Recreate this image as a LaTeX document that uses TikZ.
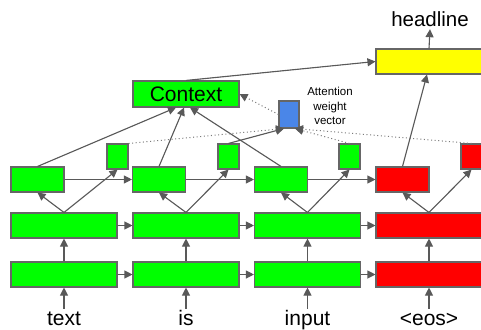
\documentclass[tikz,border=0pt]{standalone}
\usepackage{fontspec}
\setmainfont{Liberation Sans}
\usetikzlibrary{arrows.meta,calc}
\definecolor{lin}{HTML}{595959}
\definecolor{dotc}{HTML}{7A7A7A}
\definecolor{bord}{HTML}{666666}
\definecolor{gr}{HTML}{00FF00}
\definecolor{rd}{HTML}{FF0000}
\definecolor{yl}{HTML}{FFFF00}
\definecolor{bl}{HTML}{4A86E8}
\begin{document}
\begin{tikzpicture}[x=1pt,y=-1pt,
  box/.style={draw=bord,line width=1.1pt,inner sep=0pt,anchor=center},
  wide/.style={box,minimum width=106pt,minimum height=25pt},
  half/.style={box,minimum width=53pt,minimum height=25pt},
  sq/.style={box,minimum width=21pt,minimum height=25pt},
  lbl/.style={font=\fontsize{21}{24}\selectfont,anchor=base,inner sep=1pt,text height=15pt,text depth=4pt},
  arr/.style={draw=lin,line width=1.1pt,-{Triangle[length=8pt,width=8pt]},fill=lin},
  dots/.style={draw=dotc,line width=1pt,dash pattern=on 1pt off 2.6pt,-{Triangle[length=8pt,width=8pt,fill=lin,color=lin]}}
]
\useasboundingbox (0,0) rectangle (481,329);
\clip (0,0) rectangle (481,329);
\fill[white] (0,0) rectangle (481,329);

% bottom row
\node[wide,fill=gr] (b1) at (64,274.5) {};
\node[wide,fill=gr] (b2) at (186,274.5) {};
\node[wide,fill=gr] (b3) at (307.5,274.5) {};
\node[wide,fill=rd] (b4) at (429,274.5) {};
% middle row
\node[wide,fill=gr] (m1) at (64,225.5) {};
\node[wide,fill=gr] (m2) at (186,225.5) {};
\node[wide,fill=gr] (m3) at (307.5,225.5) {};
\node[wide,fill=rd] (m4) at (429,225.5) {};
% upper row
\node[half,fill=gr] (u1) at (37.5,179.5) {};
\node[half,fill=gr] (u2) at (159,179.5) {};
\node[half,fill=gr] (u3) at (281,179.5) {};
\node[half,fill=rd] (u4) at (402.5,179.5) {};
% small squares
\node[sq,fill=gr] (s1) at (117.5,156.5) {};
\node[sq,fill=gr] (s2) at (228.5,156.5) {};
\node[sq,fill=gr] (s3) at (349.5,156.5) {};
\node[sq,fill=rd] (s4) at (471.5,156.5) {};
% top
\node[box,fill=gr,minimum width=106pt,minimum height=26pt,font=\fontsize{21}{24}\selectfont] (ctx) at (186,94) {Context};
\node[wide,fill=yl] (yel) at (429,61.5) {};
\node[box,fill=bl,minimum width=20pt,minimum height=27pt] (blue) at (289,114.5) {};
\node[align=center,font=\fontsize{11.5}{14.6}\selectfont,inner sep=0pt] (att) at (330,106) {Attention\\weight\\vector};

% labels
\node[lbl] (t1) at (64,325) {text};
\node[lbl] (t2) at (186,325) {is};
\node[lbl] (t3) at (307.5,325) {input};
\node[lbl] (t4) at (429,325) {<eos>};
\node[lbl,font=\fontsize{20.5}{24}\selectfont,text depth=1pt] (head) at (430,27) {headline};

% inputs
\foreach \i in {1,2,3,4} {
  \draw[arr] (t\i.north) -- (b\i.south);
  \draw[arr] (b\i.north) -- (m\i.south);
  \draw[arr] (m\i.north) -- (u\i.south);
  \draw[arr] (m\i.north) -- (s\i.south);
}
\foreach \i/\j in {1/2,2/3,3/4} {
  \draw[arr] (b\i.east) -- (b\j.west);
  \draw[arr] (m\i.east) -- (m\j.west);
  \draw[arr] (u\i.east) -- (u\j.west);
}
% to context
\draw[arr] (u1.north) -- ($(ctx.south)+(-10,0)$);
\draw[arr] (u2.north) -- ($(ctx.south)+(-2,0)$);
\draw[arr] (u3.north) -- ($(ctx.south)+(4,0)$);
% attention
\draw[dots] (s1.north east) -- ($(blue.south)+(-5,0)$);
\draw[arr] (s2.north) -- ($(blue.south)+(-5,0)$);
\draw[dots] (s3.north) -- ($(blue.south)+(6,0)$);
\draw[dots] (s4.north) -- ($(blue.south)+(6,0)$);
\draw[dots] (blue.west) -- (ctx.east);
% decoder output
\draw[arr] (ctx.north) -- (yel.west);
\draw[arr] (u4.north) -- ($(yel.south)+(-2,0)$);
\draw[arr] (yel.north) -- (head.south);
\end{tikzpicture}
\end{document}
